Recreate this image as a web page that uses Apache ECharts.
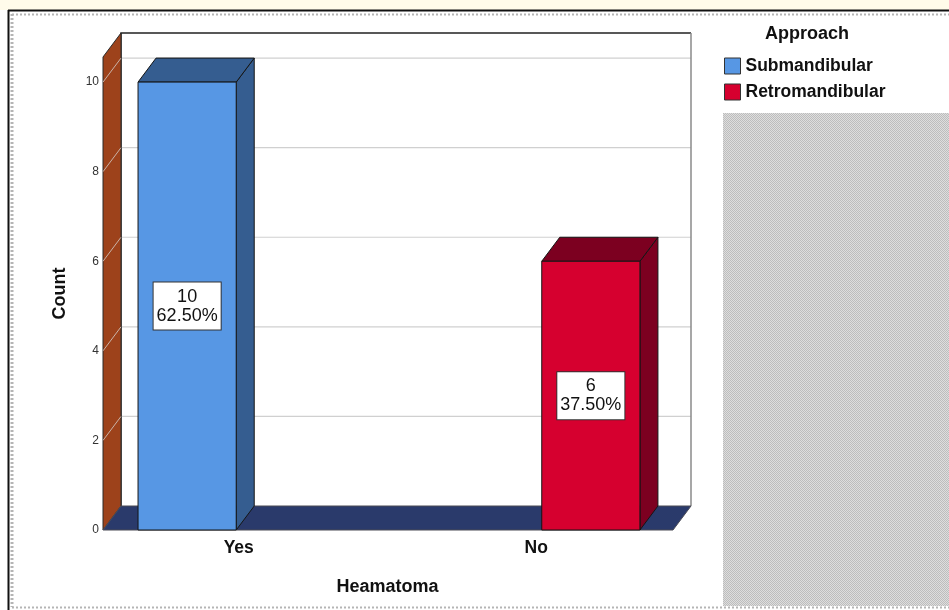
<!DOCTYPE html>
<html>
<head>
<meta charset="utf-8">
<script src="https://cdn.jsdelivr.net/npm/echarts@6/dist/echarts.min.js"></script>
<style>
  html, body { margin: 0; padding: 0; background: #ffffff; }
  #chart { width: 949px; height: 610px; }
</style>
</head>
<body>
<div id="chart"></div>
<script>
// Heamatoma by surgical approach (counts)
const categories = ['Yes', 'No'];
const seriesNames = ['Submandibular', 'Retromandibular'];
const submandibular = [10, 0];
const retromandibular = [0, 6];
const yTicks = [0, 2, 4, 6, 8, 10];

const FONT = '"Liberation Sans", Arial, Helvetica, sans-serif';
// pseudo-3D depth offset of the box (px)
const DX = 18, DY = -24;

const total = submandibular.concat(retromandibular).reduce((a, b) => a + b, 0);

const palette = {
  Submandibular:   { front: '#5797e4', shade: '#355d90' },
  Retromandibular: { front: '#d6002f', shade: '#7c0020' }
};

// floor, side wall, back wall and grid lines of the box
function renderFrame(params, api) {
  const cs = params.coordSys;
  const fl = cs.x + 13, fr = cs.x + cs.width - 12;
  const yb = api.coord([0, 0])[1];
  const yt = cs.y;
  const ch = [];
  ch.push({ type: 'rect', shape: { x: fl + DX, y: yt + DY, width: fr - fl, height: yb - yt },
            style: { fill: '#ffffff' } });
  yTicks.forEach(t => {
    if (t === 0) return;
    const y = api.coord([0, t])[1];
    ch.push({ type: 'line', shape: { x1: fl + DX, y1: y + DY, x2: fr + DX, y2: y + DY },
              style: { stroke: '#d0d0d0', lineWidth: 1.2 } });
  });
  ch.push({ type: 'polyline', shape: { points: [[fl + DX, yb + DY], [fl + DX, yt + DY], [fr + DX, yt + DY]] },
            style: { stroke: '#222', lineWidth: 1.5, fill: null } });
  ch.push({ type: 'line', shape: { x1: fr + DX, y1: yt + DY, x2: fr + DX, y2: yb + DY },
            style: { stroke: '#8a8a8a', lineWidth: 1.5 } });
  // side wall
  ch.push({ type: 'polygon', shape: { points: [[fl, yt], [fl + DX, yt + DY], [fl + DX, yb + DY], [fl, yb]] },
            style: { fill: '#9d421b', stroke: '#2a2a2a', lineWidth: 1 } });
  yTicks.forEach(t => {
    if (t === 0) return;
    const y = api.coord([0, t])[1];
    ch.push({ type: 'line', shape: { x1: fl, y1: y, x2: fl + DX, y2: y + DY },
              style: { stroke: '#c9b3a8', lineWidth: 1 } });
  });
  // floor
  ch.push({ type: 'polygon', shape: { points: [[fl, yb], [fl + DX, yb + DY], [fr + DX, yb + DY], [fr, yb]] },
            style: { fill: '#2a3a6b', stroke: '#4a4a55', lineWidth: 1 } });
  return { type: 'group', children: ch };
}

// 3D-looking clustered bar; slot 0 sits left of the category centre, slot 1 right
function makeBarRenderer(slot, colors) {
  return function (params, api) {
    const val = api.value(1);
    if (!val) return null;
    const base = api.coord([api.value(0), 0]);
    const top = api.coord([api.value(0), val]);
    const band = api.size([1, 0])[0];
    const w = band * 0.33, gap = band * 0.027, shift = band * 0.005;
    const x0 = slot === 0 ? base[0] - gap / 2 - w + shift : base[0] + gap / 2 + shift;
    const x1 = x0 + w, yT = top[1], yB = base[1];
    const stroke = { stroke: '#151515', lineWidth: 1 };
    const pct = (val / total * 100).toFixed(2) + '%';
    return {
      type: 'group',
      children: [
        { type: 'polygon', shape: { points: [[x1, yT], [x1 + DX, yT + DY], [x1 + DX, yB + DY], [x1, yB]] },
          style: Object.assign({ fill: colors.shade }, stroke) },
        { type: 'polygon', shape: { points: [[x0, yT], [x0 + DX, yT + DY], [x1 + DX, yT + DY], [x1, yT]] },
          style: Object.assign({ fill: colors.shade }, stroke) },
        { type: 'rect', shape: { x: x0, y: yT, width: w, height: yB - yT },
          style: Object.assign({ fill: colors.front }, stroke) },
        { type: 'text', x: (x0 + x1) / 2, y: (yT + yB) / 2,
          style: { text: val + '\n' + pct, fill: '#111', fontSize: 18, fontFamily: FONT,
                   align: 'center', verticalAlign: 'middle', lineHeight: 19,
                   backgroundColor: '#ffffff', borderColor: '#333', borderWidth: 1,
                   padding: [5, 3, 4, 3] } }
      ]
    };
  };
}

// light checker pattern for the empty panel below the legend
function checker() {
  const c = document.createElement('canvas');
  c.width = 2; c.height = 2;
  const g = c.getContext('2d');
  g.fillStyle = '#dedede'; g.fillRect(0, 0, 2, 2);
  g.fillStyle = '#bdbdbd'; g.fillRect(0, 0, 1, 1); g.fillRect(1, 1, 1, 1);
  return c;
}

const chart = echarts.init(document.getElementById('chart'), null, { renderer: 'canvas' });

chart.setOption({
  backgroundColor: '#ffffff',
  animation: false,
  title: {
    text: 'Approach', left: 765, top: 25, padding: 0,
    textStyle: { fontFamily: FONT, fontSize: 18, fontWeight: 'bold', color: '#111' }
  },
  legend: {
    data: seriesNames.map(n => ({ name: n })),
    orient: 'vertical', left: 724, top: 57, padding: 0,
    icon: 'rect', itemWidth: 16, itemHeight: 16, itemGap: 8,
    itemStyle: { borderColor: '#333', borderWidth: 1 },
    textStyle: { fontFamily: FONT, fontSize: 17.5, fontWeight: 'bold', color: '#111' }
  },
  grid: { left: 90, right: 264, top: 57, bottom: 80 },
  xAxis: {
    type: 'category', data: categories,
    name: 'Heamatoma', nameLocation: 'middle', nameGap: 48,
    nameTextStyle: { fontFamily: FONT, fontSize: 18, fontWeight: 'bold', color: '#111' },
    axisLine: { show: false }, axisTick: { show: false },
    axisLabel: { margin: 9, fontFamily: FONT, fontSize: 17.5, fontWeight: 'bold', color: '#111' },
    splitLine: { show: false }
  },
  yAxis: {
    type: 'value', min: 0, max: 10.56, interval: 2, offset: -13,
    name: 'Count', nameLocation: 'middle', nameGap: 34,
    nameTextStyle: { fontFamily: FONT, fontSize: 18, fontWeight: 'bold', color: '#111' },
    axisLine: { show: false }, axisTick: { show: false }, splitLine: { show: false },
    axisLabel: {
      margin: 4, fontFamily: FONT, fontSize: 12, color: '#333',
      formatter: v => (yTicks.indexOf(v) >= 0 ? String(v) : '')
    }
  },
  series: [
    { type: 'custom', name: 'frame', silent: true, z: 1, renderItem: renderFrame, data: [[0, 0]] },
    { type: 'custom', name: seriesNames[0], z: 2, itemStyle: { color: palette.Submandibular.front },
      renderItem: makeBarRenderer(0, palette.Submandibular),
      encode: { x: 0, y: 1 },
      data: categories.map((c, i) => [i, submandibular[i]]) },
    { type: 'custom', name: seriesNames[1], z: 2, itemStyle: { color: palette.Retromandibular.front },
      renderItem: makeBarRenderer(1, palette.Retromandibular),
      encode: { x: 0, y: 1 },
      data: categories.map((c, i) => [i, retromandibular[i]]) }
  ],
  graphic: [
    { type: 'rect', silent: true, z: -10, shape: { x: 0, y: 0, width: 949, height: 10 }, style: { fill: '#fffbea' } },
    { type: 'line', silent: true, shape: { x1: 8, y1: 10.5, x2: 949, y2: 10.5 }, style: { stroke: '#111', lineWidth: 2 } },
    { type: 'line', silent: true, shape: { x1: 8.5, y1: 10, x2: 8.5, y2: 610 }, style: { stroke: '#111', lineWidth: 2 } },
    { type: 'line', silent: true, shape: { x1: 12, y1: 14.5, x2: 949, y2: 14.5 }, style: { stroke: '#b5b5b5', lineWidth: 2, lineDash: [2, 2] } },
    { type: 'line', silent: true, shape: { x1: 12, y1: 14, x2: 12, y2: 607 }, style: { stroke: '#b5b5b5', lineWidth: 3, lineDash: [2, 2] } },
    { type: 'line', silent: true, shape: { x1: 12, y1: 607.5, x2: 949, y2: 607.5 }, style: { stroke: '#b5b5b5', lineWidth: 2, lineDash: [2, 2] } },
    { type: 'rect', silent: true, shape: { x: 723, y: 113, width: 226, height: 493 },
      style: { fill: { image: checker(), repeat: 'repeat' } } }
  ]
});
</script>
</body>
</html>
